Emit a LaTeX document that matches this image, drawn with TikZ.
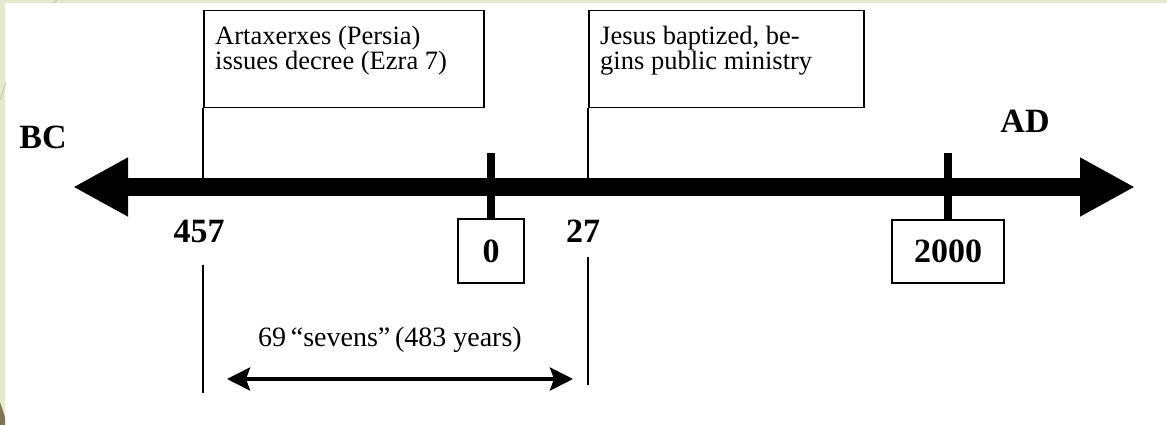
\documentclass[tikz,border=0pt]{standalone}
\usepackage{fontspec}
\setmainfont{Liberation Serif}
\usetikzlibrary{positioning,arrows.meta}
\definecolor{framegreen}{RGB}{228,234,206}
\definecolor{frameolive}{RGB}{125,115,85}

\begin{document}
\begin{tikzpicture}[x=1pt,y=-1pt,
    eventbox/.style={draw,line width=1.5pt,anchor=north west,minimum width=#1,minimum height=97pt,inner sep=0pt},
    eventtext/.style={inner sep=0pt,anchor=north west,align=left,font=\fontsize{26.5}{23}\selectfont},
    yearbox/.style={draw,line width=1.5pt,inner sep=0pt,font=\bfseries\fontsize{34}{40}\selectfont},
    yearlabel/.style={inner sep=0pt,font=\bfseries\fontsize{34}{40}\selectfont},
    marker/.style={line width=2pt},
    yeartick/.style={line width=8pt}]
  \useasboundingbox (0,0) rectangle (1167,425);
  % slide frame
  \fill[framegreen] (0,0) rectangle (1167,425);
  \fill[white] (5,3) rectangle (1167,425);
  \draw[frameolive!40,line width=1pt] (6,82) -- (0,100);
  \draw[frameolive!40,line width=1pt] (57,0) -- (53,3);
  \fill[frameolive] (0,402) -- (5,417) -- (5,425) -- (0,425) -- cycle;

  % events above the line
  \node[eventbox=280pt] (decree) at (203,10) {};
  \node[eventtext,below right=16pt and 12pt of decree.north west] (decreetext)
    {Artaxerxes (Persia)\\issues decree (Ezra 7)};
  \node[eventbox=275pt] (baptism) at (588,10) {};
  \node[eventtext,below right=16pt and 12pt of baptism.north west] (baptismtext)
    {Jesus baptized, be-\\gins public ministry};

  % points on the time line
  \coordinate (a457) at (203,187);
  \coordinate (a27) at (588,187);
  \coordinate (t0) at (491,153);
  \coordinate (t2000) at (948,153);
  \coordinate (bcend) at (73,187);
  \coordinate (adend) at (1135,187);

  % year boxes and labels
  \node[yearbox,minimum width=66pt,minimum height=64pt] (y0) at (491,251) {0};
  \node[yearbox,minimum width=112pt,minimum height=63pt] (y2000) at (948,251.5) {2000};
  \node[yearlabel] (y457) at (199,231) {457};
  \node[yearlabel] (y27) at (583,231) {27};
  \node[yearlabel] (bc) at (43,137) {BC};
  \node[yearlabel] (ad) at (1025,121) {AD};

  \begin{scope}[marker]
    \draw (decree.south west) -- (a457);
    \draw (baptism.south west) -- (a27);
  \end{scope}
  \begin{scope}[yeartick]
    \draw (t0) -- (y0.north);
    \draw (t2000) -- (y2000.north);
  \end{scope}

  % time line
  \draw[line width=18pt,{Triangle[length=55pt,width=55pt]}-{Triangle[length=55pt,width=55pt]}]
    (bcend) -- (adend);

  % the 69 sevens
  \coordinate (s457) at (203,265);
  \coordinate (e457) at (203,393);
  \coordinate (s27) at (588,257);
  \coordinate (e27) at (588,385);
  \coordinate (spanl) at (227,379);
  \coordinate (spanr) at (573,379);
  \draw[marker] (s457) -- (e457);
  \draw[marker] (s27) -- (e27);
  \draw[line width=4pt,{Stealth[length=23pt,width=23pt,inset=4pt]}-{Stealth[length=23pt,width=23pt,inset=4pt]}]
    (spanl) -- (spanr);
  \node[inner sep=0pt,font=\fontsize{28}{24}\selectfont] (sevens) at (390,340)
    {69\,“sevens”\,(483 years)};
\end{tikzpicture}
\end{document}
